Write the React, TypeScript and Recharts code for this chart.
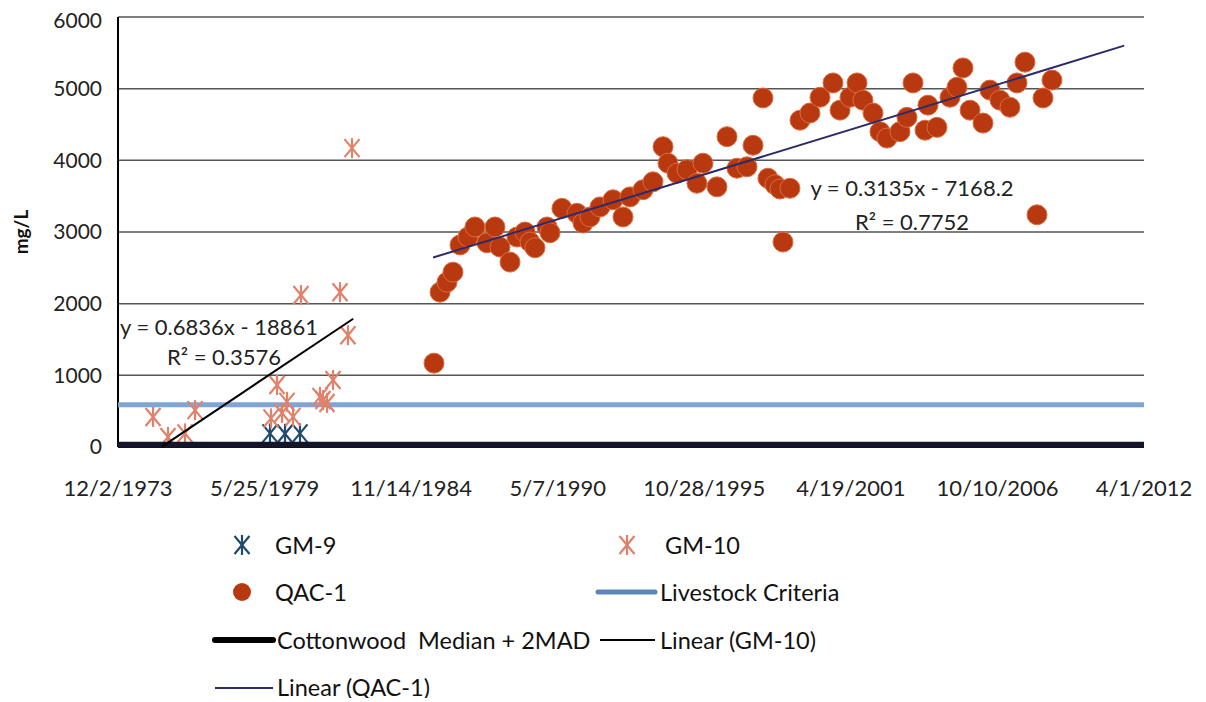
import { ScatterChart, Scatter, XAxis, YAxis, CartesianGrid, Customized } from 'recharts';

// x values are Excel date serials (days), as on the original sheet
const xTicks = [27000, 29000, 31000, 33000, 35000, 37000, 39000, 41000];
const xTickLabels = ['12/2/1973', '5/25/1979', '11/14/1984', '5/7/1990', '10/28/1995', '4/19/2001', '10/10/2006', '4/1/2012'];
const yTicks = [0, 1000, 2000, 3000, 4000, 5000, 6000];

const gm9Dates = [29074, 29279, 29483];
const gm9Values = [190, 185, 190];

const gm10Dates = [27478, 27682, 27914, 28051, 29088, 29170, 29238, 29306, 29388, 29497, 29756, 29797, 29852, 29934, 30029, 30138, 30193];
const gm10Values = [419, 140, 190, 515, 400, 865, 475, 630, 420, 2120, 700, 655, 615, 935, 2160, 1560, 4170];

const qacDates = [
  31312, 31394, 31489, 31571, 31667, 31776, 31871, 32035, 32144, 32212, 32349, 32444, 32554, 32622, 32690, 32854, 32895,
  33058, 33263, 33345, 33440, 33577, 33754, 33891, 33986, 34164, 34300, 34437, 34505, 34628, 34764, 34900, 34982, 35173,
  35310, 35446, 35583, 35665, 35801, 35869, 35965, 36033, 36074, 36169, 36306, 36442, 36579, 36756, 36852, 36988, 37084,
  37165, 37302, 37397, 37493, 37670, 37766, 37848, 38012, 38052, 38175, 38353, 38448, 38530, 38626, 38803, 38898, 39035,
  39171, 39267, 39376, 39540, 39622, 39744,
];
const qacValues = [
  1170, 2160, 2300, 2440, 2820, 2930, 3070, 2850, 3070, 2790, 2580, 2930, 3000, 2860, 2780, 3070, 2990,
  3330, 3260, 3125, 3210, 3350, 3450, 3210, 3490, 3590, 3700, 4190, 3960, 3820, 3870, 3680, 3960, 3630,
  4330, 3890, 3910, 4210, 4870, 3750, 3660, 3600, 2860, 3610, 4560, 4660, 4880, 5080, 4700, 4880, 5080,
  4840, 4660, 4400, 4310, 4400, 4600, 5080, 4420, 4770, 4460, 4880, 5020, 5290, 4700, 4520, 4980, 4840,
  4740, 5080, 5370, 3240, 4870, 5120,
];

const livestockDates = [27000, 41000];
const livestockValues = [590, 590];
const cottonwoodDates = [27000, 41000];
const cottonwoodValues = [30, 30];
const gm10TrendDates = [27600, 30210];
const gm10TrendValues = [6, 1790];
const qacTrendDates = [31300, 40730];
const qacTrendValues = [2644, 5600];

const pairs = (xs: number[], ys: number[]) => xs.map((x, i) => ({ x, y: ys[i] }));

const GM9_COLOR = '#1f4a6e';
const GM10_COLOR = '#e0826a';
const QAC_FILL = '#b8390f';
const QAC_EDGE = '#de6a3e';
const LIVESTOCK_COLOR = '#7fa5d6';
const COTTON_COLOR = '#14142a';
const QAC_TREND = '#2b2b6b';
const FONT = 'Lato, "Open Sans", sans-serif';

const Star = ({ cx, cy, color }: { cx: number; cy: number; color: string }) => (
  <g stroke={color} strokeWidth={2.2}>
    <line x1={cx - 7.5} y1={cy - 9} x2={cx + 7.5} y2={cy + 9} />
    <line x1={cx + 7.5} y1={cy - 9} x2={cx - 7.5} y2={cy + 9} />
    <line x1={cx} y1={cy - 10} x2={cx} y2={cy + 10} />
  </g>
);

const noDot = () => <g />;

const YLabel = ({ viewBox }: any) => {
  const x = viewBox.x + 20;
  const y = viewBox.y + viewBox.height / 2;
  return (
    <text x={x} y={y} transform={`rotate(-90, ${x}, ${y})`} textAnchor="middle" fontFamily={FONT} fontWeight="bold" fontSize={19} fill="#111">
      mg/L
    </text>
  );
};

const TrendText = () => (
  <g fontFamily={FONT} fontSize={22} fill="#222" textAnchor="middle">
    <text x={211} y={327}>y = 0.6836x - 18861</text>
    <text x={216} y={357}>R² = 0.3576</text>
    <text x={904} y={188}>y = 0.3135x - 7168.2</text>
    <text x={904} y={222}>R² = 0.7752</text>
  </g>
);

const legendText: React.CSSProperties = { position: 'absolute', fontFamily: FONT, fontSize: 23.5, color: '#111', lineHeight: '28px', whiteSpace: 'pre' };

const LegendBox = () => (
  <div style={{ position: 'absolute', left: 0, top: 0, width: 1190, height: 690, pointerEvents: 'none' }}>
    <svg width={1190} height={690} style={{ position: 'absolute', left: 0, top: 0 }}>
      <Star cx={234} cy={537} color={GM9_COLOR} />
      <Star cx={619} cy={537} color={GM10_COLOR} />
      <circle cx={234} cy={584} r={9} fill={QAC_FILL} />
      <line x1={590} y1={584} x2={647} y2={584} stroke="#5a86bb" strokeWidth={5} strokeLinecap="round" />
      <line x1={207} y1={632} x2={265} y2={632} stroke="#000" strokeWidth={6} strokeLinecap="round" />
      <line x1={592} y1={632} x2={647} y2={632} stroke="#000" strokeWidth={2} />
      <line x1={207} y1={680} x2={265} y2={680} stroke={QAC_TREND} strokeWidth={2} />
    </svg>
    <div style={{ ...legendText, left: 267, top: 523 }}>GM-9</div>
    <div style={{ ...legendText, left: 657, top: 523 }}>GM-10</div>
    <div style={{ ...legendText, left: 267, top: 570 }}>QAC-1</div>
    <div style={{ ...legendText, left: 652, top: 570 }}>Livestock Criteria</div>
    <div style={{ ...legendText, left: 269, top: 618 }}>Cottonwood  Median + 2MAD</div>
    <div style={{ ...legendText, left: 652, top: 618 }}>Linear (GM-10)</div>
    <div style={{ ...legendText, left: 269, top: 665 }}>Linear (QAC-1)</div>
  </div>
);

export default function App() {
  return (
    <div style={{ position: 'relative', width: 1190, height: 690 }}>
      <ScatterChart width={1190} height={690} margin={{ top: 9, right: 54, left: 0, bottom: 191 }}>
        <CartesianGrid horizontal vertical={false} stroke="#555" strokeWidth={1.5} />
        <XAxis
          type="number"
          dataKey="x"
          domain={[27000, 41000]}
          ticks={xTicks}
          tickFormatter={(_v: number, i: number) => xTickLabels[i]}
          tickLine={false}
          tickSize={0}
          tickMargin={33}
          height={60}
          axisLine={{ stroke: '#000', strokeWidth: 2 }}
          tick={{ fontSize: 22, fill: '#222', fontFamily: FONT }}
          interval={0}
        />
        <YAxis
          type="number"
          dataKey="y"
          domain={[0, 6000]}
          ticks={yTicks}
          width={110}
          tickLine={false}
          tickSize={0}
          tickMargin={16}
          axisLine={{ stroke: '#000', strokeWidth: 2 }}
          tick={{ fontSize: 21, fill: '#222', fontFamily: FONT }}
          label={{ content: YLabel }}
        />
        <Scatter data={pairs(livestockDates, livestockValues)} line={{ stroke: LIVESTOCK_COLOR, strokeWidth: 5 }} shape={noDot} isAnimationActive={false} />
        <Scatter data={pairs(gm9Dates, gm9Values)} shape={(p: any) => <Star cx={p.cx} cy={p.cy} color={GM9_COLOR} />} isAnimationActive={false} />
        <Scatter data={pairs(gm10Dates, gm10Values)} shape={(p: any) => <Star cx={p.cx} cy={p.cy} color={GM10_COLOR} />} isAnimationActive={false} />
        <Scatter
          data={pairs(qacDates, qacValues)}
          shape={(p: any) => <circle cx={p.cx} cy={p.cy} r={10} fill={QAC_FILL} stroke={QAC_EDGE} strokeWidth={1} />}
          isAnimationActive={false}
        />
        <Scatter data={pairs(cottonwoodDates, cottonwoodValues)} line={{ stroke: COTTON_COLOR, strokeWidth: 6 }} shape={noDot} isAnimationActive={false} />
        <Scatter data={pairs(gm10TrendDates, gm10TrendValues)} line={{ stroke: '#000', strokeWidth: 2 }} shape={noDot} isAnimationActive={false} />
        <Scatter data={pairs(qacTrendDates, qacTrendValues)} line={{ stroke: QAC_TREND, strokeWidth: 2 }} shape={noDot} isAnimationActive={false} />
        <Customized component={TrendText} />
      </ScatterChart>
      <LegendBox />
    </div>
  );
}
